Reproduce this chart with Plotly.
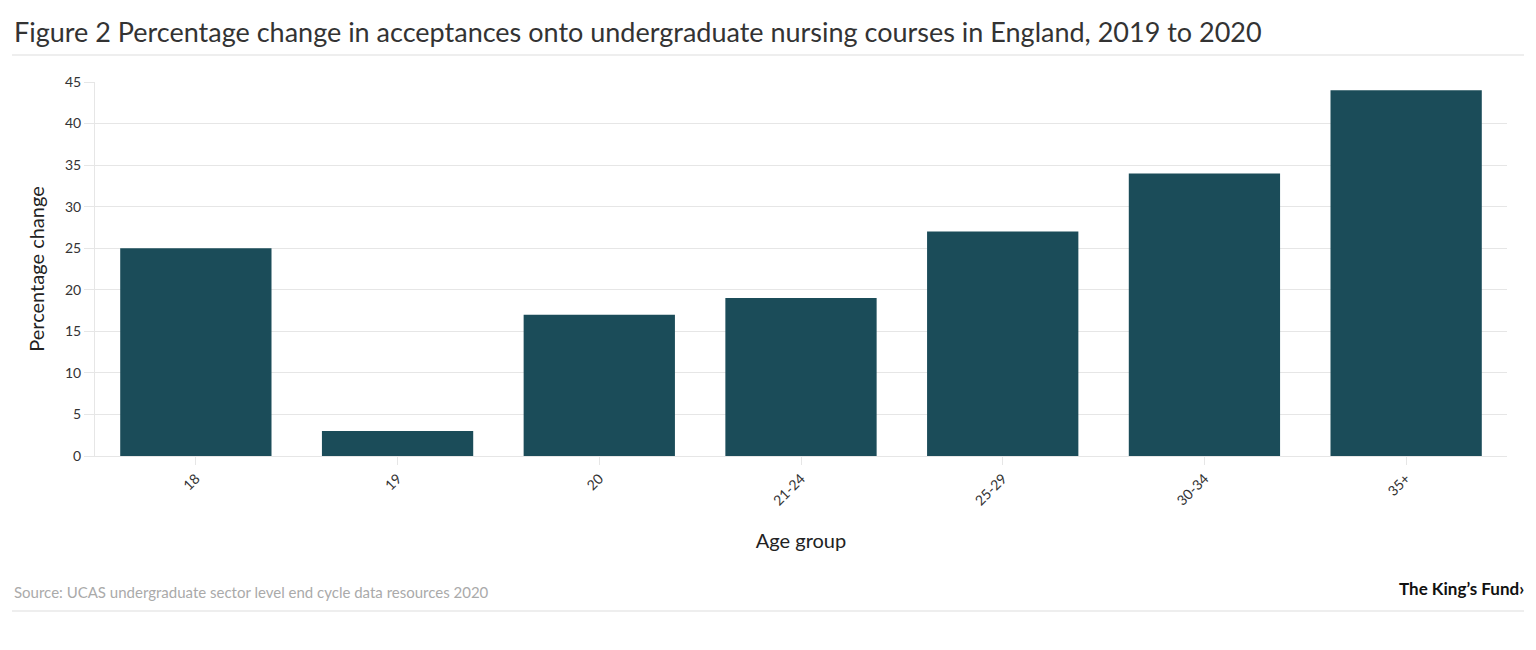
import plotly.graph_objects as go

age_groups = ["18", "19", "20", "21-24", "25-29", "30-34", "35+"]
pct_change = [25, 3, 17, 19, 27, 34, 44]
y_ticks = [0, 5, 10, 15, 20, 25, 30, 35, 40, 45]

W, H = 1536, 650
L, R, T, B = 95, 29, 82, 194
PW, PH = W - L - R, H - T - B

def px(x):
    return (x - L) / PW

def py(y):
    return (H - B - y) / PH

FONT = "Lato"

fig = go.Figure(go.Bar(
    x=age_groups, y=pct_change,
    marker=dict(color="#1b4c59", line=dict(width=0)),
    hoverinfo="x+y",
))

fig.update_layout(
    width=W, height=H,
    margin=dict(l=L, r=R, t=T, b=B),
    paper_bgcolor="white", plot_bgcolor="white",
    bargap=0.25,
    font=dict(family=FONT, color="#333333", size=14),
    showlegend=False,
    xaxis=dict(
        title=dict(text="Age group", font=dict(size=20, color="#222"), standoff=26),
        tickangle=-45, ticks="outside", ticklen=8, tickcolor="#e6e6e6",
        tickfont=dict(size=14, color="#333"),
        showline=True, linecolor="#e6e6e6", linewidth=1,
        showgrid=False,
    ),
    yaxis=dict(
        title=dict(text="Percentage change", font=dict(size=20, color="#222"), standoff=14),
        range=[0, 45], tickvals=y_ticks,
        ticks="outside", ticklen=10, tickcolor="#e6e6e6",
        tickfont=dict(size=14, color="#333"),
        showline=True, linecolor="#e6e6e6", linewidth=1,
        gridcolor="#e6e6e6", zeroline=False,
    ),
)

fig.add_annotation(
    x=px(12), y=py(32), xref="paper", yref="paper",
    text="Figure 2 Percentage change in acceptances onto undergraduate nursing courses in England, 2019 to 2020",
    showarrow=False, xanchor="left", yanchor="middle",
    font=dict(family=FONT, size=27, color="#333"),
)
fig.add_annotation(
    x=px(12), y=py(592), xref="paper", yref="paper",
    text="Source: UCAS undergraduate sector level end cycle data resources 2020",
    showarrow=False, xanchor="left", yanchor="middle",
    font=dict(family=FONT, size=15, color="#aaaaaa"),
)
fig.add_annotation(
    x=px(1526), y=py(588), xref="paper", yref="paper",
    text="<b>The King’s Fund›</b>",
    showarrow=False, xanchor="right", yanchor="middle",
    font=dict(family=FONT, size=17, color="#111"),
)
for yy in (55, 611):
    fig.add_shape(type="line", xref="paper", yref="paper",
                  x0=px(12), x1=px(1524), y0=py(yy), y1=py(yy),
                  line=dict(color="#dddddd", width=1))

fig.write_html("out.html")
